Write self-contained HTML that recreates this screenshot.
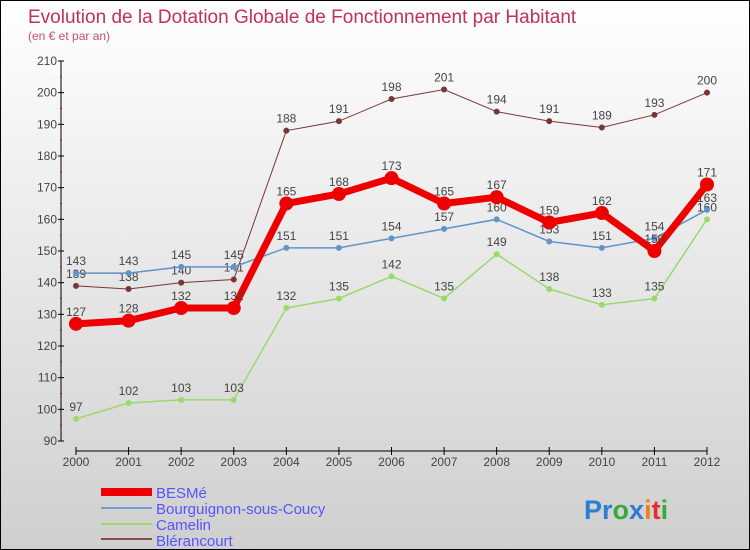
<!DOCTYPE html>
<html><head><meta charset="utf-8"><style>
body{margin:0}
#c{width:750px;height:550px;position:relative;box-sizing:border-box;border:1px solid #000;background:linear-gradient(#ffffff,#cfcfcf);font-family:"Liberation Sans",sans-serif;overflow:hidden}
svg text{font-family:"Liberation Sans",sans-serif}
</style></head><body>
<div id="c">
<svg id="s" width="750" height="550">
<text x="27" y="22" font-size="19" fill="#c0305e">Evolution de la Dotation Globale de Fonctionnement par Habitant</text>
<text x="27" y="39" font-size="12" fill="#c0507a">(en € et par an)</text>
<g id="axes"></g><g id="plot"></g>
<g>
<rect x="100" y="487" width="51" height="8" fill="#e00"/>
<text x="155" y="497" font-size="15" fill="#55f">BESMé</text>
<rect x="100" y="506" width="51" height="2" fill="#6fa0cc"/>
<text x="155" y="513" font-size="15" fill="#55f">Bourguignon-sous-Coucy</text>
<rect x="100" y="522" width="51" height="2" fill="#9ada6a"/>
<text x="155" y="529" font-size="15" fill="#55f">Camelin</text>
<rect x="100" y="537" width="51" height="2" fill="#8b4a4a"/>
<text x="155" y="545" font-size="15" fill="#55f">Blérancourt</text>
</g>
<text x="583" y="518" font-size="27" font-weight="bold"><tspan fill="#2a7fd0">Pr</tspan><tspan fill="#3aa83a">o</tspan><tspan fill="#2a7fd0">x</tspan><tspan fill="#f08020">i</tspan><tspan fill="#e03030">t</tspan><tspan fill="#3aa83a">i</tspan></text>
</svg></div>
<script>
const years=[2000,2001,2002,2003,2004,2005,2006,2007,2008,2009,2010,2011,2012];
const besme=[127,128,132,132,165,168,173,165,167,159,162,150,171];
const bourguignon=[143,143,145,145,151,151,154,157,160,153,151,154,163];
const camelin=[97,102,103,103,132,135,142,135,149,138,133,135,160];
const blerancourt=[139,138,140,141,188,191,198,201,194,191,189,193,200];
const yTicks=[90,100,110,120,130,140,150,160,170,180,190,200,210];
const NS="http://www.w3.org/2000/svg";
const x=i=>75+i*(706-75)/(years.length-1);
const y=v=>440-(v-90)*380/120;
function mk(t,a,p){const e=document.createElementNS(NS,t);for(const k in a)e.setAttribute(k,a[k]);p.appendChild(e);return e;}
const ax=document.getElementById('axes'),pl=document.getElementById('plot');
let e=mk('line',{x1:60,y1:60,x2:60,y2:440,stroke:'#000'},ax);


yTicks.forEach(v=>{
 mk('line',{x1:57,y1:y(v),x2:63,y2:y(v),stroke:'#000'},ax);
 if(v<210)mk('line',{x1:59,y1:y(v+5),x2:61,y2:y(v+5),stroke:'#e00'},ax);
 const t=mk('text',{x:56,y:y(v)+4,'font-size':12,fill:'#444','text-anchor':'end'},ax);t.textContent=v;
 
 
});
e=mk('line',{x1:75,y1:450,x2:706,y2:450,stroke:'#000'},ax);


years.forEach((yr,i)=>{
 mk('line',{x1:x(i),y1:446,x2:x(i),y2:454,stroke:'#000'},ax);
 const t=mk('text',{x:x(i),y:465,'font-size':12,fill:'#444','text-anchor':'middle'},ax);t.textContent=yr;
 
 
});
function series(d,col,w,r,name){
 const g=mk('g',{},pl);
 
 
 mk('polyline',{points:d.map((v,i)=>x(i)+','+y(v)).join(' '),fill:'none',stroke:col,'stroke-width':w},g);
 d.forEach((v,i)=>{
  const c=mk('circle',{cx:x(i),cy:y(v),r:r,fill:col},g);
  
  
  const t=mk('text',{x:x(i),y:y(v)-8,'font-size':12,fill:'#444','text-anchor':'middle'},g);t.textContent=v;
  
  
 });
}
series(blerancourt,'#7a3535',1,3,'blerancourt');
series(camelin,'#9ada6a',1.5,3,'camelin');
series(bourguignon,'#5f95c8',1.5,3,'bourguignon');
series(besme,'#ee0000',7,7,'besme');
</script>
</body></html>
